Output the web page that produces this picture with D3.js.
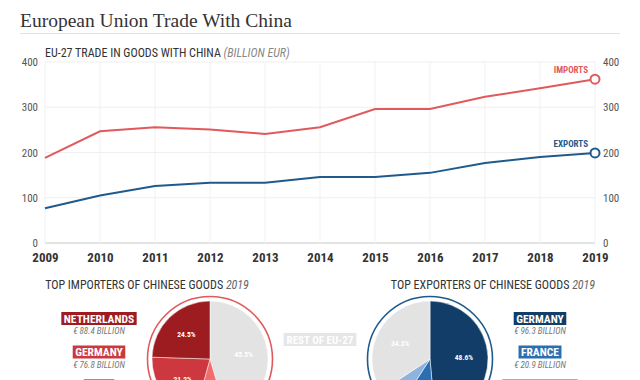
<!DOCTYPE html>
<html>
<head>
<meta charset="utf-8">
<script src="https://cdn.jsdelivr.net/npm/d3@7"></script>
<style>
  body { margin: 0; background: #fff; }
  svg { display: block; }
</style>
</head>
<body>
<div id="chart"></div>
<script>
// trade in goods, billion EUR
const years = [2009, 2010, 2011, 2012, 2013, 2014, 2015, 2016, 2017, 2018, 2019];
const imports = [188, 247, 256, 251, 241, 256, 296, 296, 323, 342, 362];
const exportsEU = [77, 105, 126, 133, 133, 146, 146, 155, 177, 190, 199];
const yTicks = [0, 100, 200, 300, 400];

// pies, 2019
const impNames = ['NETHERLANDS', 'GERMANY', 'ITALY'];
const impValues = ['88.4', '76.8', '31.7'];
const impShares = [24.5, 21.2, 8.8];
const impRest = 45.5;

const expNames = ['GERMANY', 'FRANCE', 'NETHERLANDS'];
const expValues = ['96.3', '20.9', '13.1'];
const expShares = [48.6, 10.5, 6.6];
const expRest = 34.3;

const w = 640;
const h = 380;
const cond = "'Roboto Condensed','Liberation Sans Narrow','DejaVu Sans Condensed',sans-serif";
const red = '#e05a5c';
const blue = '#1f5a8c';
const impColors = ['#9c1c20', '#cc383d', '#f06d6d'];
const expColors = ['#123d68', '#2b6fb0', '#8db3de'];
const grey = '#e3e3e3';

const svg = d3.select('#chart').append('svg')
  .attr('width', w)
  .attr('height', h);

svg.append('text')
  .text('European Union Trade With China')
  .attr('x', 20)
  .attr('y', 27)
  .attr('font-family', "'Liberation Serif',serif")
  .attr('font-size', 19.5)
  .attr('fill', '#333');

svg.append('line')
  .attr('x1', 20).attr('x2', 620)
  .attr('y1', 33.5).attr('y2', 33.5)
  .attr('stroke', '#e2e2e2');

const sub = svg.append('text')
  .attr('x', 45)
  .attr('y', 57)
  .attr('font-family', cond)
  .attr('font-size', 12)
  .attr('fill', '#333');
sub.append('tspan').text('EU-27 TRADE IN GOODS WITH CHINA ');
sub.append('tspan').text('(BILLION EUR)').attr('font-style', 'italic').attr('fill', '#888');

// line chart
const x = d3.scaleLinear([2009, 2019], [45, 595]);
const y = d3.scaleLinear([0, 400], [243, 62]);

const grid = svg.append('g');
grid.selectAll('.hg').data(yTicks).join('line')
  .attr('x1', x(2009)).attr('x2', x(2019))
  .attr('y1', d => y(d)).attr('y2', d => y(d))
  .attr('stroke', d => d === 0 ? '#c8c8c8' : '#efefef');
grid.selectAll('.vg').data(years).join('line')
  .attr('x1', d => x(d)).attr('x2', d => x(d))
  .attr('y1', y(400)).attr('y2', y(0))
  .attr('stroke', '#f1f1f1');

const yLeft = d3.axisLeft(y).tickValues(yTicks).tickSize(0).tickPadding(7);
const yRight = d3.axisRight(y).tickValues(yTicks).tickSize(0).tickPadding(8);
const xAxis = d3.axisBottom(x).tickValues(years).tickFormat(d3.format('d')).tickSize(0).tickPadding(10);

svg.append('g')
  .attr('transform', 'translate(' + x(2009) + ',0)')
  .call(yLeft)
  .call(g => g.select('.domain').remove())
  .call(g => g.selectAll('text').attr('font-family', cond).attr('font-size', 11).attr('fill', '#555'));

svg.append('g')
  .attr('transform', 'translate(' + x(2019) + ',0)')
  .call(yRight)
  .call(g => g.select('.domain').remove())
  .call(g => g.selectAll('text').attr('font-family', cond).attr('font-size', 11).attr('fill', '#555'));

svg.append('g')
  .attr('transform', 'translate(0,' + y(0) + ')')
  .call(xAxis)
  .call(g => g.select('.domain').remove())
  .call(g => g.selectAll('text').attr('font-family', cond).attr('font-size', 13)
    .attr('font-weight', 'bold').attr('fill', '#333'));

const line = d3.line()
  .x((d, i) => x(years[i]))
  .y(d => y(d));

[[imports, red, 'IMPORTS'], [exportsEU, blue, 'EXPORTS']].forEach(([vals, col, name]) => {
  svg.append('path')
    .attr('d', line(vals))
    .attr('stroke', col)
    .attr('stroke-width', 2)
    .attr('fill', 'none');
  const last = vals[vals.length - 1];
  svg.append('circle')
    .attr('cx', x(2019)).attr('cy', y(last))
    .attr('r', 4.5)
    .attr('fill', '#fff')
    .attr('stroke', col)
    .attr('stroke-width', 2);
  svg.append('text')
    .text(name)
    .attr('x', x(2019) - 7)
    .attr('y', y(last) - 6)
    .attr('text-anchor', 'end')
    .attr('font-family', cond)
    .attr('font-size', 9)
    .attr('font-weight', 'bold')
    .attr('fill', col);
});

// pies
function drawPie(cx, title, names, values, shares, rest, colors, ring, restFirst, lx) {
  svg.append('text')
    .text(title + ' ')
    .attr('x', (cx < 320 ? 147 : 493))
    .attr('y', 289)
    .attr('text-anchor', 'middle')
    .attr('font-family', cond)
    .attr('font-size', 12)
    .attr('fill', '#333')
    .append('tspan').text('2019').attr('font-style', 'italic').attr('fill', '#666');

  const cy = 359;
  let slices = names.map((n, i) => ({ name: n, share: shares[i], color: colors[i] }));
  const restSlice = { name: 'REST', share: rest, color: grey };
  slices = restFirst ? [restSlice].concat(slices.slice().reverse()) : slices.concat([restSlice]);

  const pie = d3.pie().sort(null).value(d => d.share);
  const arc = d3.arc().innerRadius(0).outerRadius(58);
  const labelArc = d3.arc().innerRadius(34).outerRadius(34);

  const g = svg.append('g').attr('transform', 'translate(' + cx + ',' + cy + ')');
  g.append('circle').attr('r', 62.5).attr('fill', 'none').attr('stroke', ring).attr('stroke-width', 1.6);
  const arcs = pie(slices);
  g.selectAll('path').data(arcs).join('path')
    .attr('d', arc)
    .attr('fill', d => d.data.color)
    .attr('stroke', '#fff')
    .attr('stroke-width', 0.5);
  g.selectAll('text').data(arcs).join('text')
    .attr('transform', d => 'translate(' + labelArc.centroid(d) + ')')
    .attr('text-anchor', 'middle')
    .attr('dy', '0.35em')
    .attr('font-family', cond)
    .attr('font-size', 7.5)
    .attr('font-weight', 'bold')
    .attr('fill', '#fff')
    .text(d => d.data.share.toFixed(1) + '%');

  // country labels
  names.forEach((n, i) => {
    const top = 312 + i * 33.5;
    const t = svg.append('text')
      .text(n)
      .attr('x', lx)
      .attr('y', top + 10.5)
      .attr('text-anchor', 'middle')
      .attr('font-family', cond)
      .attr('font-size', 11.5)
      .attr('font-weight', 'bold')
      .attr('fill', '#fff');
    const bw = t.node().getComputedTextLength() + 5;
    svg.insert('rect', () => t.node())
      .attr('x', lx - bw / 2).attr('y', top)
      .attr('width', bw).attr('height', 13)
      .attr('fill', colors[i]);
    svg.append('text')
      .text('\u20ac ' + values[i] + ' BILLION')
      .attr('x', lx)
      .attr('y', top + 22)
      .attr('text-anchor', 'middle')
      .attr('font-family', cond)
      .attr('font-size', 9)
      .attr('font-style', 'italic')
      .attr('fill', '#777');
  });
}

drawPie(210, 'TOP IMPORTERS OF CHINESE GOODS', impNames, impValues, impShares, impRest, impColors, red, true, 99);
drawPie(430, 'TOP EXPORTERS OF CHINESE GOODS', expNames, expValues, expShares, expRest, expColors, blue, false, 540);

// rest of EU label
const rt = svg.append('text')
  .text('REST OF EU-27')
  .attr('x', 320)
  .attr('y', 344)
  .attr('text-anchor', 'middle')
  .attr('font-family', cond)
  .attr('font-size', 11)
  .attr('font-weight', 'bold')
  .attr('fill', '#fff');
const rw = rt.node().getComputedTextLength() + 6;
svg.insert('rect', () => rt.node())
  .attr('x', 320 - rw / 2).attr('y', 333)
  .attr('width', rw).attr('height', 13)
  .attr('fill', '#e6e6e6');
</script>
</body>
</html>
